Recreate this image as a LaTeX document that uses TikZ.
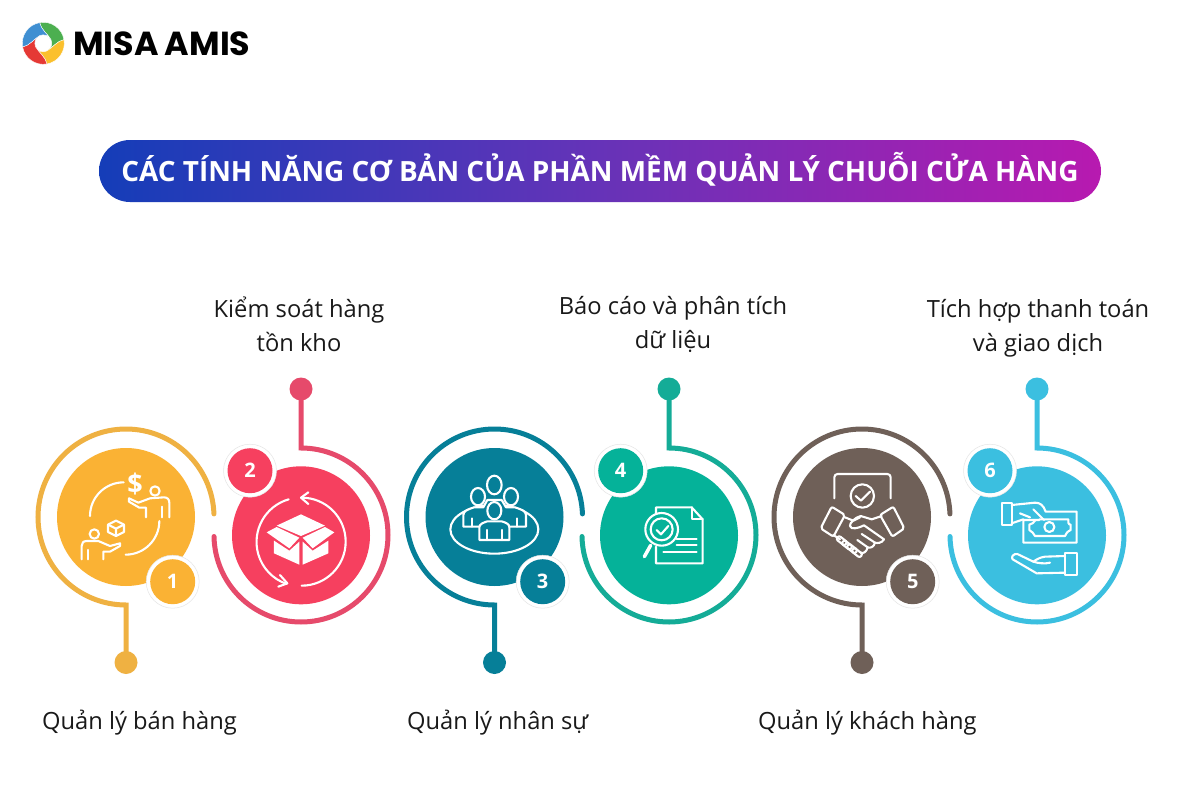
\documentclass[tikz,border=0pt]{standalone}
\usepackage{fontspec}
\setmainfont{Open Sans}
\newfontfamily\logofont{Poppins}
\usetikzlibrary{arrows.meta,calc}
\definecolor{cyel}{HTML}{FAB234}
\definecolor{cyela}{HTML}{EFB142}
\definecolor{cred}{HTML}{F6405F}
\definecolor{creda}{HTML}{E64A6B}
\definecolor{cteal}{HTML}{067F98}
\definecolor{cgrn}{HTML}{05B299}
\definecolor{cgrna}{HTML}{14AC97}
\definecolor{cbrn}{HTML}{6F6058}
\definecolor{cblu}{HTML}{3BBFE0}
\pgfdeclarehorizontalshading{pill}{100bp}{rgb(0bp)=(0.08,0.24,0.72);rgb(25bp)=(0.08,0.24,0.72);rgb(50bp)=(0.40,0.20,0.72);rgb(75bp)=(0.72,0.10,0.69);rgb(100bp)=(0.72,0.10,0.69)}
\tikzset{
  disc/.style={circle,inner sep=0pt,minimum size=138pt},
  tip/.style={circle,inner sep=0pt,minimum size=23pt},
  badge/.style={circle,inner sep=0pt,minimum size=45pt,text=white,font=\fontsize{20}{20}\selectfont\bfseries},
  halo/.style={circle,inner sep=0pt,minimum size=53pt,fill=white,draw=black!10,line width=.5pt},
  ringline/.style={line width=5pt,line cap=round,miter limit=10},
  label/.style={align=center,inner sep=0pt,text=black!90,font=\fontsize{23.7}{34}\selectfont},
  ico/.style={draw=white,line width=2.1pt,line cap=round,line join=round},
}
% #1 id, #2 centre x, #3 fill, #4 line colour, #5 number, #6 badge x
\newcommand{\lowerunit}[6]{%
  \node[disc,fill=#3] (disc#1) at (#2,517) {};
  \node[tip,fill=#4] (tip#1) at (#2,662.5) {};
  \coordinate (turn#1) at (#2,605);
  \draw[ringline,draw=#4] (tip#1.center) -- (turn#1) arc (90:358:88);
  \node[halo] (halo#1) at (#6,581.7) {};
  \node[badge,fill=#3] (badge#1) at (halo#1.center) {#5};
}
\newcommand{\upperunit}[6]{%
  \node[disc,fill=#3] (disc#1) at (#2,535.3) {};
  \node[tip,fill=#4] (tip#1) at (#2,389) {};
  \coordinate (turn#1) at (#2,448);
  \draw[ringline,draw=#4] (tip#1.center) -- (turn#1) arc (270:539:87);
  \node[halo] (halo#1) at (#6,470.7) {};
  \node[badge,fill=#3] (badge#1) at (halo#1.center) {#5};
}
\begin{document}
\begin{tikzpicture}[x=1pt,y=1pt,yscale=-1]
\useasboundingbox (0,0) rectangle (1200,800);
\fill[white] (0,0) rectangle (1200,800);

% logo
\begin{scope}[shift={(43.3,43.3)},yscale=-1]
  \foreach \r/\c in {0/4CAF50,270/FBC02D,180/E53935,90/3F8FD2}{
    \definecolor{blade}{HTML}{\c}
    \begin{scope}[rotate=\r]
      \fill[blade,draw=white,line width=.4pt] (100:21) arc (100:10:21) .. controls (10:14) and (-30:10) .. (-65:8.5) arc (-65:25:8.5) .. controls (60:10) and (100:14) .. (100:21) -- cycle;
    \end{scope}
  }
\end{scope}
\node[anchor=west,inner sep=0pt,font=\logofont\bfseries\fontsize{33.3}{34}\selectfont] (logo) at (73,43.5) {MISA\hspace{-.02em} AMIS};

% title
\node[shade,shading=pill,rounded corners=31pt,minimum width=1002pt,minimum height=62pt,inner sep=0pt] (title) at (600,171) {};
\node[inner sep=0pt,text=white,font=\fontsize{27.9}{30}\selectfont\bfseries] (titletext) at (600,169.5) {CÁC TÍNH NĂNG CƠ BẢN CỦA PHẦN MỀM QUẢN LÝ CHUỖI CỬA HÀNG};

% units
\lowerunit{1}{126}{cyel}{cyela}{1}{172.7}
\upperunit{2}{301}{cred}{creda}{2}{250}
\lowerunit{3}{494.5}{cteal}{cteal}{3}{542.7}
\upperunit{4}{669}{cgrn}{cgrna}{4}{620.7}
\lowerunit{5}{862}{cbrn}{cbrn}{5}{912.7}
\upperunit{6}{1037}{cblu}{cblu}{6}{990}

% labels
\node[label,anchor=west] (l1) at (42,722.5) {Quản lý bán hàng};
\node[label] (l2) at (299,324) {Kiểm soát hàng\\tồn kho};
\node[label,anchor=west] (l3) at (407,722.5) {Quản lý nhân sự};
\node[label] (l4) at (673,324) {Báo cáo và phân tích\\dữ liệu};
\node[label,anchor=west] (l5) at (758,722.5) {Quản lý khách hàng};
\node[label] (l6) at (1038,328) {Tích hợp thanh toán\\và giao dịch};

% icon 1
\begin{scope}[shift={(60,460)},scale=1/3]
  \draw[ico] (90,168) arc (180:270:101);
  \draw[ico] (298,183) arc (0:90:101);
  \draw[ico] (285,93) circle (14);
  \draw[ico] (207,115) -- (235,128) -- (270,115) -- (312,112) .. controls (322,112) and (328,118) .. (328,128) -- (328,172);
  \draw[ico] (207,115) -- (207,125) -- (238,143) -- (258,143) -- (258,172);
  \draw[ico] (305,140) -- (305,172);
  \draw[ico] (168,182) -- (192,194) -- (192,216) -- (168,228) -- (144,216) -- (144,194) -- cycle;
  \draw[ico] (144,194) -- (168,206) -- (192,194) (168,206) -- (168,228);
  \draw[ico] (103,222) circle (14);
  \draw[ico] (65,298) -- (65,258) .. controls (65,249) and (70,243) .. (80,243) -- (115,243) -- (150,258) -- (180,250) -- (180,258) -- (150,275) -- (130,275) -- (130,298);
  \draw[ico] (85,270) -- (85,298);
  \node[inner sep=0pt,text=white,font=\fontsize{27}{27}\selectfont\bfseries] (dollar) at (225,72) {\$};
\end{scope}

% icon 2
\begin{scope}[shift={(0,400)},scale=1/3]
  \draw[ico] (866,298) arc (254:109:133);
  \draw[ico] (905,293) arc (270:450:132);
  \draw[ico] (925,277) -- (903,293) -- (925,312);
  \draw[ico] (840,525) -- (862,550) -- (835,560);
  \fill[white] (903,343) -- (975,377) -- (903,408) -- (830,377) -- cycle;
  \fill[white] (800,397) -- (830,381) -- (898,413) -- (868,445) -- cycle;
  \fill[white] (1003,397) -- (975,381) -- (908,413) -- (938,445) -- cycle;
  \fill[white] (822,422) -- (868,452) -- (898,425) -- (898,494) -- (822,460) -- cycle;
  \fill[white] (985,422) -- (938,452) -- (908,425) -- (908,494) -- (985,460) -- cycle;
\end{scope}

% icon 3
\begin{scope}[shift={(400,400)},scale=1/3]
  \draw[ico] (283,388) ellipse (132 and 73);
  \draw[ico] (283,255) ellipse (22 and 28);
  \draw[ico,fill=cteal] (190,380) -- (190,345) .. controls (190,332) and (205,328) .. (222,322) -- (250,322) -- (262,300) -- (305,300) -- (318,322) -- (345,322) .. controls (362,328) and (378,332) .. (378,345) -- (378,380) -- cycle;
  \draw[ico,fill=cteal] (234,290) ellipse (21 and 26);
  \draw[ico,fill=cteal] (333,290) ellipse (21 and 26);
  \draw[ico] (216,355) -- (216,380) (352,355) -- (352,380);
  \draw[ico,fill=cteal] (238,420) -- (238,382) .. controls (238,372) and (250,368) .. (262,364) -- (305,364) .. controls (318,368) and (328,372) .. (328,382) -- (328,420) -- cycle;
  \draw[ico,fill=cteal] (283,332) ellipse (21 and 26);
  \draw[ico] (262,390) -- (262,420) (305,390) -- (305,420);
\end{scope}

% icon 4
\begin{scope}[shift={(400,400)},scale=1/3]
  \draw[ico] (768,345) -- (768,322) -- (875,322) -- (908,358) -- (908,490) -- (768,490) -- (768,440);
  \draw[ico] (875,322) -- (875,358) -- (908,358);
  \draw[ico] (830,418) -- (890,418) (830,435) -- (890,435) (790,455) -- (890,455);
  \draw[ico,fill=cgrn] (785,388) circle (49);
  \draw[ico] (785,388) circle (33);
  \draw[ico] (770,390) -- (783,403) -- (805,378);
  \draw[ico,line width=3.5pt] (752,436) -- (733,470);
\end{scope}

% icon 5
\begin{scope}[shift={(800,460)},scale=1/3]
  \draw[ico] (103,115) -- (103,52) .. controls (103,46) and (107,42) .. (113,42) -- (262,42) .. controls (268,42) and (272,46) .. (272,52) -- (272,115);
  \draw[ico] (187,108) circle (35);
  \draw[ico] (167,108) -- (183,122) -- (210,95);
  \draw[ico,rounded corners=2pt] (95,140) -- (135,165) -- (100,230) -- (62,205) -- cycle;
  \draw[ico,rounded corners=2pt] (280,140) -- (240,165) -- (277,230) -- (313,205) -- cycle;
  \draw[ico] (135,172) -- (160,182) -- (180,172);
  \draw[ico] (245,168) -- (215,178) -- (182,168) .. controls (165,172) and (148,190) .. (150,198) .. controls (152,210) and (175,205) .. (192,196) -- (252,238);
  \draw[ico] (252,238) .. controls (245,250) and (232,250) .. (225,248) -- (185,222);
  \draw[ico] (225,248) .. controls (222,262) and (210,265) .. (203,262) -- (172,240);
  \draw[ico] (203,262) .. controls (200,275) and (190,282) .. (182,278);
  \draw[ico] (100,225) -- (120,238);
  \foreach \px/\py in {125/242,141/255,156/266,171/278}{
    \draw[ico,rotate around={38:(\px,\py)},rounded corners=2pt] (\px-16,\py-7) rectangle (\px+16,\py+7);
  }
\end{scope}

% icon 6
\begin{scope}[shift={(980,480)},scale=1/3]
  \draw[ico] (65,68) rectangle (95,135);
  \draw[ico] (95,75) -- (165,68) .. controls (180,68) and (190,75) .. (197,95) -- (290,95) -- (290,188) -- (130,188) -- (130,120) -- (178,120);
  \draw[ico] (95,130) -- (130,118);
  \draw[ico] (120,100) -- (150,112);
  \draw[ico] (160,88) -- (192,120);
  \draw[ico] (178,118) -- (265,118) -- (265,128) .. controls (265,135) and (270,132) .. (272,134) -- (272,150) .. controls (262,155) and (258,160) .. (255,168) -- (165,168) .. controls (162,160) and (155,155) .. (148,150) -- (148,134) .. controls (155,132) and (162,128) .. (165,122);
  \draw[ico] (208,141) circle (15);
  \draw[ico] (255,218) rectangle (290,285);
  \draw[ico] (255,228) -- (195,230) .. controls (180,232) and (170,238) .. (160,245) -- (112,222) .. controls (100,220) and (92,232) .. (98,238) -- (170,280) -- (255,278);
  \draw[ico] (160,245) .. controls (175,250) and (195,252) .. (210,248);
\end{scope}
\end{tikzpicture}
\end{document}
